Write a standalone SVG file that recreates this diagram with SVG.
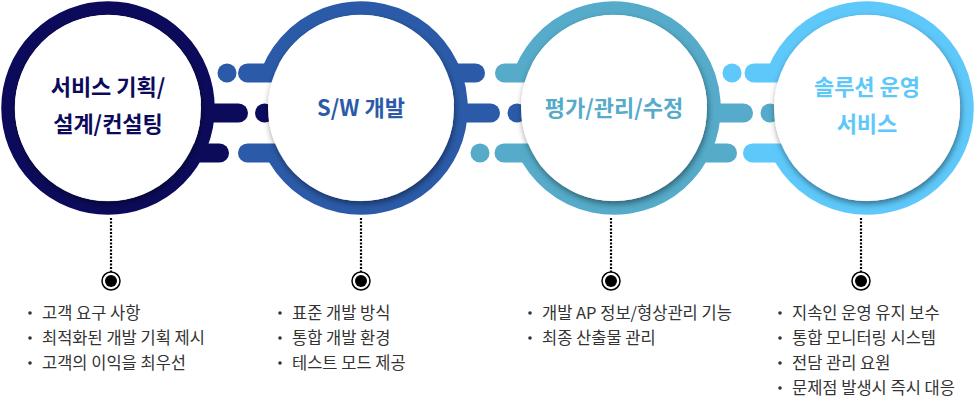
<svg xmlns="http://www.w3.org/2000/svg" width="975" height="404" viewBox="0 0 975 404">
<defs>
<filter id="sh" x="-20%" y="-20%" width="140%" height="140%">
<feDropShadow dx="1" dy="3" stdDeviation="3" flood-color="#000" flood-opacity="0.45"/>
</filter>
<style>
.bar{fill:none;stroke-width:19;stroke-linecap:round}
.ring{fill:none;stroke-width:13.5}
.inner{fill:#fff;filter:url(#sh)}
.title{font-family:"Noto Sans CJK KR","Noto Sans",sans-serif;font-size:22px;font-weight:700;text-anchor:middle}
.item{font-family:"Noto Sans CJK KR","Noto Sans",sans-serif;font-size:16.5px;fill:#333}
.dotline{stroke:#000;stroke-width:2.2;stroke-dasharray:2 1.5;fill:none}
.mk-o{fill:#fff;stroke:#000;stroke-width:1.5}
.mk-i{fill:#000}
.bul{fill:#333}
.c1{stroke:#0c0b5b}.c2{stroke:#2b5ba8}.c3{stroke:#55abc9}.c4{stroke:#5ec8fa}
.f1{fill:#0c0b5b}.f2{fill:#2b5ba8}.f3{fill:#55abc9}.f4{fill:#5ec8fa}
</style>
</defs>
<rect width="975" height="404" fill="#fff"/>

<g id="connectors">
<!-- gap 1 -->
<circle cx="227" cy="73" r="9.5" class="f2"/>
<line x1="247.5" y1="73" x2="361" y2="73" class="bar c2"/>
<line x1="108" y1="113" x2="238.5" y2="113" class="bar c1"/>
<circle cx="264.5" cy="113" r="9.5" class="f1"/>
<line x1="108" y1="153" x2="219.5" y2="153" class="bar c1"/>
<line x1="247.5" y1="153" x2="361" y2="153" class="bar c2"/>
<!-- gap 2 -->
<line x1="361" y1="73" x2="475.5" y2="73" class="bar c2"/>
<line x1="504.5" y1="73" x2="614" y2="73" class="bar c3"/>
<line x1="361" y1="113" x2="490.5" y2="113" class="bar c2"/>
<circle cx="517" cy="113" r="9.5" class="f2"/>
<circle cx="480" cy="153" r="9.5" class="f3"/>
<line x1="504" y1="153" x2="614" y2="153" class="bar c3"/>
<!-- gap 3 -->
<circle cx="732" cy="73" r="9.5" class="f4"/>
<line x1="754" y1="73" x2="867" y2="73" class="bar c4"/>
<line x1="614" y1="113" x2="743.5" y2="113" class="bar c3"/>
<circle cx="770" cy="113" r="9.5" class="f3"/>
<line x1="614" y1="153" x2="727.5" y2="153" class="bar c3"/>
<line x1="752.5" y1="153" x2="867" y2="153" class="bar c4"/>
<!-- drop lines and markers -->
<line x1="111" y1="218" x2="111" y2="272" class="dotline"/>
<line x1="361" y1="218" x2="361" y2="272" class="dotline"/>
<line x1="611" y1="218" x2="611" y2="272" class="dotline"/>
<line x1="861" y1="218" x2="861" y2="272" class="dotline"/>
<circle cx="111" cy="281" r="9" class="mk-o"/><circle cx="111" cy="281" r="6" class="mk-i"/>
<circle cx="361" cy="281" r="9" class="mk-o"/><circle cx="361" cy="281" r="6" class="mk-i"/>
<circle cx="611" cy="281" r="9" class="mk-o"/><circle cx="611" cy="281" r="6" class="mk-i"/>
<circle cx="861" cy="281" r="9" class="mk-o"/><circle cx="861" cy="281" r="6" class="mk-i"/>
</g>

<g id="node1">
<circle cx="108" cy="108" r="100" class="ring c1"/>
<circle cx="108" cy="108" r="93" class="inner"/>
<text x="108" y="95" class="title f1">서비스 기획/</text>
<text x="108" y="132" class="title f1">설계/컨설팅</text>
</g>

<g id="node2">
<path d="M265 80 A100 100 0 1 1 270.25 150" class="ring c2"/>
<circle cx="361" cy="108" r="93" class="inner"/>
<text x="361" y="115.5" class="title f2">S/W 개발</text>
</g>

<g id="node3">
<path d="M518 80 A100 100 0 1 1 523.25 150" class="ring c3"/>
<circle cx="614" cy="108" r="93" class="inner"/>
<text x="614" y="115.5" class="title f3">평가/관리/수정</text>
</g>

<g id="node4">
<path d="M771 80 A100 100 0 1 1 776.25 150" class="ring c4"/>
<circle cx="867" cy="108" r="93" class="inner"/>
<text x="867" y="95" class="title f4">솔루션 운영</text>
<text x="867" y="132" class="title f4">서비스</text>
</g>

<g id="list1">
<circle cx="30" cy="313" r="1.8" class="bul"/><text x="42" y="319" class="item">고객 요구 사항</text>
<circle cx="30" cy="338" r="1.8" class="bul"/><text x="42" y="344" class="item">최적화된 개발 기획 제시</text>
<circle cx="30" cy="363" r="1.8" class="bul"/><text x="42" y="369" class="item">고객의 이익을 최우선</text>
</g>
<g id="list2">
<circle cx="280" cy="313" r="1.8" class="bul"/><text x="292" y="319" class="item">표준 개발 방식</text>
<circle cx="280" cy="338" r="1.8" class="bul"/><text x="292" y="344" class="item">통합 개발 환경</text>
<circle cx="280" cy="363" r="1.8" class="bul"/><text x="292" y="369" class="item">테스트 모드 제공</text>
</g>
<g id="list3">
<circle cx="530" cy="313" r="1.8" class="bul"/><text x="542" y="319" class="item">개발 AP 정보/형상관리 기능</text>
<circle cx="530" cy="338" r="1.8" class="bul"/><text x="542" y="344" class="item">최종 산출물 관리</text>
</g>
<g id="list4">
<circle cx="780" cy="313" r="1.8" class="bul"/><text x="792" y="319" class="item">지속인 운영 유지 보수</text>
<circle cx="780" cy="338" r="1.8" class="bul"/><text x="792" y="344" class="item">통합 모니터링 시스템</text>
<circle cx="780" cy="363" r="1.8" class="bul"/><text x="792" y="369" class="item">전담 관리 요원</text>
<circle cx="780" cy="388" r="1.8" class="bul"/><text x="792" y="394" class="item">문제점 발생시 즉시 대응</text>
</g>
</svg>
